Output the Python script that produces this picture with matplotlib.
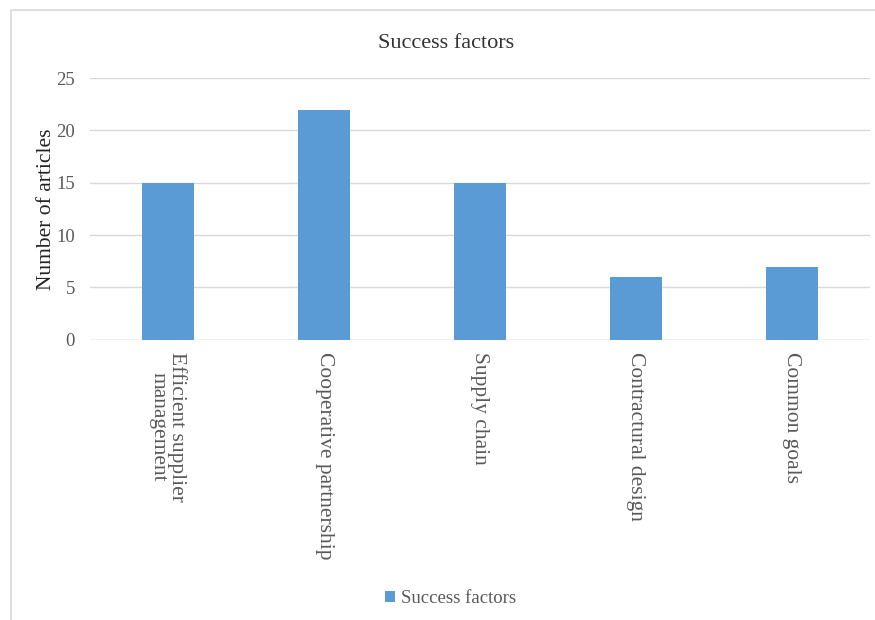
import matplotlib
matplotlib.use("Agg")
import matplotlib.pyplot as plt
from matplotlib.patches import Rectangle

# ── data ────────────────────────────────────────────────────────────────
categories = ["Efficient supplier\nmanagement", "Cooperative partnership",
              "Supply chain", "Contractural design", "Common goals"]
counts = [15, 22, 15, 6, 7]
yticks = [0, 5, 10, 15, 20, 25]

BAR = "#5b9bd5"
GRID = "#d9d9d9"
TXT = "#595959"

plt.rcParams.update({
    "font.family": ["Liberation Serif", "DejaVu Serif"],
    "font.size": 12,
})

fig = plt.figure(figsize=(8.75, 6.2), dpi=100)
ax = fig.add_axes([0.103, 0.452, 0.891, 0.422])

x = range(len(categories))
ax.bar(x, counts, width=0.33, color=BAR, zorder=3, label="Success factors")

ax.set_xlim(-0.5, len(categories) - 0.5)
ax.set_ylim(0, 25)
ax.set_yticks(yticks)
ax.grid(axis="y", color=GRID, lw=1, zorder=0)
for s in ax.spines.values():
    s.set_visible(False)
ax.axhline(0, color=GRID, lw=1, zorder=2)
ax.tick_params(axis="both", length=0, colors=TXT, labelsize=13.5)
ax.tick_params(axis="y", pad=11)
ax.set_xticks(list(x))
ax.set_xticklabels(categories, rotation=-90, va="top", ha="center",
                   fontsize=15.5, linespacing=0.95)
ax.tick_params(axis="x", pad=9)
ax.set_ylabel("Number of articles", color="#222222", fontsize=15.5, labelpad=0)

fig.text(0.51, 0.93, "Success factors", ha="center", va="center",
         fontsize=16, color="#333333")

ax.legend(loc="center", bbox_to_anchor=(0.515, 0.035), bbox_transform=fig.transFigure,
          frameon=False, handlelength=0.55, handleheight=0.55, handletextpad=0.3,
          fontsize=13.5, labelcolor=TXT)

# outer chart frame
fig.patches.append(Rectangle((0.012, -0.01), 1.0, 0.994, transform=fig.transFigure,
                             fill=False, edgecolor="#d9d9d9", lw=1.2))

fig.savefig("out.png", dpi=100, facecolor="white")
